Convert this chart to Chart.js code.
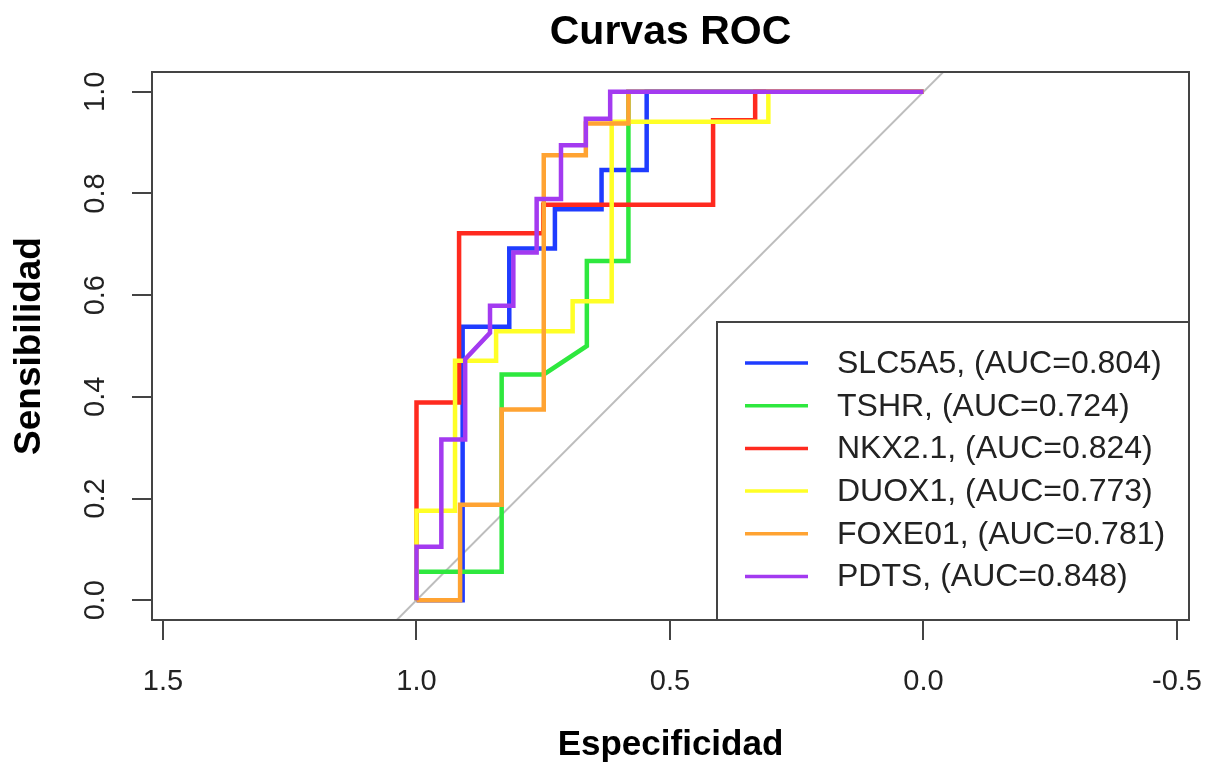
<!DOCTYPE html>
<html>
<head>
<meta charset="utf-8">
<script src="https://cdn.jsdelivr.net/npm/chart.js@4.4.1/dist/chart.umd.min.js"></script>
<style>
  html, body { margin: 0; padding: 0; background: #fff; }
  #wrap { width: 1208px; height: 766px; position: relative; }
</style>
</head>
<body>
<div id="wrap"><canvas id="chart"></canvas></div>
<script>
// Axis ticks
const xTicks = [1.5, 1.0, 0.5, 0.0, -0.5];
const yTicks = [0.0, 0.2, 0.4, 0.6, 0.8, 1.0];

// Curves: specificity (x) / sensitivity (y)
const slc5a5Spec = [1, 0.909, 0.909, 0.817, 0.817, 0.727, 0.727, 0.635, 0.635, 0.546, 0.546, 0];
const slc5a5Sens = [0, 0, 0.538, 0.538, 0.692, 0.692, 0.769, 0.769, 0.846, 0.846, 1, 1];

const tshrSpec = [1, 1, 0.832, 0.832, 0.749, 0.664, 0.664, 0.582, 0.582, 0];
const tshrSens = [0, 0.056, 0.056, 0.444, 0.444, 0.5, 0.667, 0.667, 1, 1];

const nkx21Spec = [1, 1, 0.916, 0.916, 0.750, 0.750, 0.415, 0.415, 0.332, 0.332, 0];
const nkx21Sens = [0, 0.389, 0.389, 0.722, 0.722, 0.778, 0.778, 0.944, 0.944, 1, 1];

const duox1Spec = [1, 1, 0.924, 0.924, 0.843, 0.843, 0.692, 0.692, 0.615, 0.615, 0.306, 0.306, 0];
const duox1Sens = [0, 0.176, 0.176, 0.471, 0.471, 0.529, 0.529, 0.588, 0.588, 0.941, 0.941, 1, 1];

const foxe01Spec = [1, 0.914, 0.914, 0.832, 0.832, 0.749, 0.749, 0.666, 0.666, 0.582, 0.582, 0];
const foxe01Sens = [0, 0, 0.1875, 0.1875, 0.375, 0.375, 0.875, 0.875, 0.9375, 0.9375, 1, 1];

const pdtsSpec = [1, 1, 0.951, 0.951, 0.904, 0.904, 0.855, 0.855, 0.809, 0.809, 0.763, 0.763, 0.715, 0.715, 0.666, 0.666, 0.618, 0.618, 0];
const pdtsSens = [0, 0.105, 0.105, 0.316, 0.316, 0.474, 0.526, 0.579, 0.579, 0.684, 0.684, 0.789, 0.789, 0.895, 0.895, 0.947, 0.947, 1, 1];

// Chance line (clipped to the plot box)
const diagSpec = [1.5, -0.5];
const diagSens = [-0.5, 1.5];

const seriesNames = ['SLC5A5, (AUC=0.804)', 'TSHR, (AUC=0.724)', 'NKX2.1, (AUC=0.824)',
                     'DUOX1, (AUC=0.773)', 'FOXE01, (AUC=0.781)', 'PDTS, (AUC=0.848)'];
const seriesColors = ['#1f3cff', '#2ee83e', '#ff2a1f', '#ffff26', '#ffa332', '#a33af0'];
const seriesSpec = [slc5a5Spec, tshrSpec, nkx21Spec, duox1Spec, foxe01Spec, pdtsSpec];
const seriesSens = [slc5a5Sens, tshrSens, nkx21Sens, duox1Sens, foxe01Sens, pdtsSens];

const chartTitle = 'Curvas ROC';

const FONT = '"Liberation Sans", Arial, Helvetica, sans-serif';

function toPoints(xs, ys) {
    return xs.map((x, i) => ({ x: x, y: ys[i] }));
}

const datasets = [{
    label: 'diag',
    data: toPoints(diagSpec, diagSens),
    borderColor: '#bdbdbd',
    borderWidth: 2,
    pointRadius: 0,
    showLine: true,
    order: 10
}];
seriesNames.forEach((name, i) => {
    datasets.push({
        label: name,
        data: toPoints(seriesSpec[i], seriesSens[i]),
        borderColor: seriesColors[i],
        backgroundColor: seriesColors[i],
        borderWidth: 4.5,
        pointRadius: 0,
        showLine: true,
        tension: 0,
        order: 6 - i   // later series drawn on top, like R
    });
});

// Box around the plot, title centred over the plot, legend inside the plot area
const boxAndLegend = {
    id: 'boxAndLegend',
    afterDraw(chart) {
        const ctx = chart.ctx;
        const a = chart.chartArea;
        ctx.save();
        ctx.strokeStyle = '#444';
        ctx.lineWidth = 2;
        ctx.strokeRect(a.left, a.top, a.right - a.left, a.bottom - a.top);

        // title (R centres it over the plot region)
        ctx.fillStyle = '#000';
        ctx.font = 'bold 41px ' + FONT;
        ctx.textAlign = 'center';
        ctx.textBaseline = 'middle';
        ctx.fillText(chartTitle, (a.left + a.right) / 2, 33);

        // legend box
        const lw = 472, lh = 298;
        const lx = a.right - lw, ly = a.bottom - lh;
        ctx.fillStyle = '#fff';
        ctx.fillRect(lx, ly, lw, lh);
        ctx.strokeRect(lx, ly, lw, lh);
        ctx.font = '32px ' + FONT;
        ctx.textBaseline = 'middle';
        ctx.textAlign = 'left';
        seriesNames.forEach((name, i) => {
            const y = ly + 41 + i * 42.7;
            ctx.strokeStyle = seriesColors[i];
            ctx.lineWidth = 3.5;
            ctx.beginPath();
            ctx.moveTo(lx + 28, y);
            ctx.lineTo(lx + 91, y);
            ctx.stroke();
            ctx.fillStyle = '#222';
            ctx.fillText(name, lx + 120, y + 1);
        });
        ctx.restore();
    }
};

const ctx = document.getElementById('chart').getContext('2d');
new Chart(ctx, {
    type: 'scatter',
    data: { datasets: datasets },
    options: {
        responsive: true,
        maintainAspectRatio: false,
        animation: false,
        layout: { padding: { left: 0, right: 19, top: 72, bottom: 0 } },
        plugins: {
            legend: { display: false },
            tooltip: { enabled: false },
            title: { display: false }
        },
        scales: {
            x: {
                type: 'linear',
                reverse: true,
                min: -0.5237,
                max: 1.5217,
                afterBuildTicks: scale => { scale.ticks = xTicks.map(v => ({ value: v })); },
                afterFit: scale => {
                    scale.height = 146;
                    scale.paddingLeft = 0;
                    scale.paddingRight = 0;
                },
                grid: { drawOnChartArea: false, drawTicks: true, tickLength: 20, color: '#444', lineWidth: 2 },
                border: { display: true, color: '#444', width: 2 },
                ticks: {
                    color: '#222',
                    font: { family: FONT, size: 29 },
                    padding: 25,
                    maxRotation: 0,
                    callback: v => v.toFixed(1)
                },
                title: {
                    display: true,
                    text: 'Especificidad',
                    color: '#000',
                    font: { family: FONT, size: 35, weight: 'bold' },
                    padding: { top: 0, bottom: 0 }
                }
            },
            y: {
                type: 'linear',
                min: -0.039,
                max: 1.039,
                afterBuildTicks: scale => { scale.ticks = yTicks.map(v => ({ value: v })); },
                afterFit: scale => {
                    scale.width = 152;
                    scale.paddingTop = 0;
                    scale.paddingBottom = 0;
                },
                grid: { drawOnChartArea: false, drawTicks: true, tickLength: 20, color: '#444', lineWidth: 2 },
                border: { display: true, color: '#444', width: 2 },
                ticks: {
                    color: '#222',
                    font: { family: FONT, size: 29 },
                    padding: 16,
                    minRotation: 90,
                    maxRotation: 90,
                    crossAlign: 'center',
                    callback: v => v.toFixed(1)
                },
                title: {
                    display: true,
                    text: 'Sensibilidad',
                    color: '#000',
                    font: { family: FONT, size: 37, weight: 'bold' },
                    padding: { top: 8, bottom: 0 }
                }
            }
        }
    },
    plugins: [boxAndLegend]
});
</script>
</body>
</html>
